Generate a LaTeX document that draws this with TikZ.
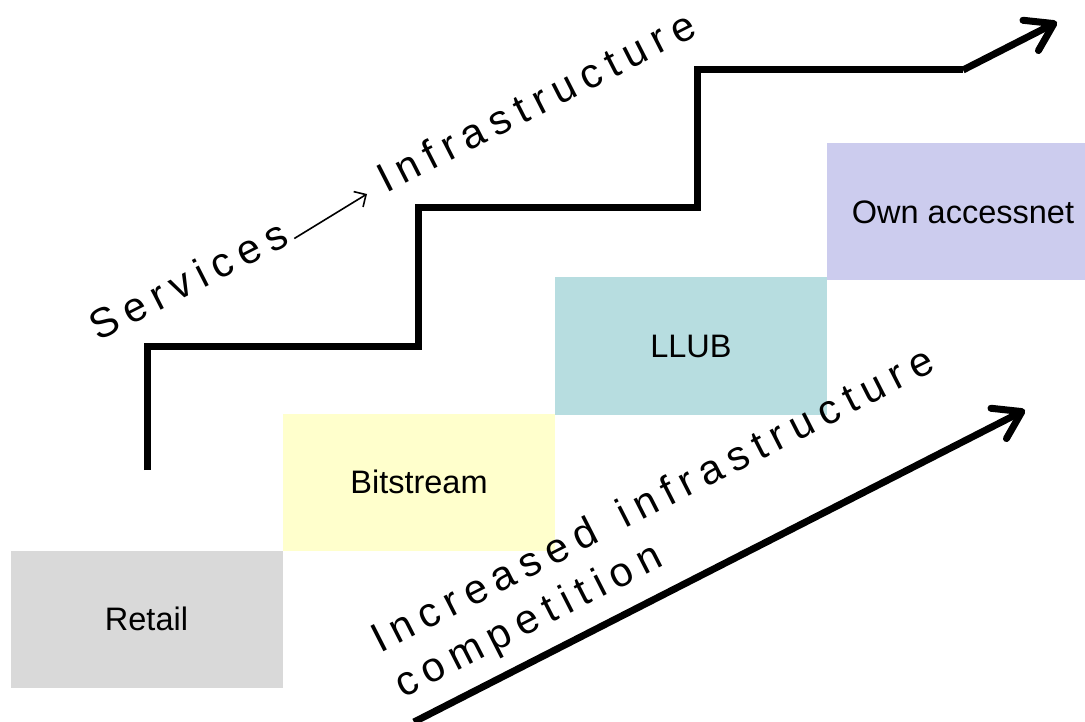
\documentclass[tikz,border=0pt]{standalone}
\usepackage{fontspec}
\setmainfont{Liberation Sans}
\usetikzlibrary{arrows.meta,calc}

\definecolor{retailgray}{HTML}{D9D9D9}
\definecolor{bityellow}{HTML}{FFFFCC}
\definecolor{llubteal}{HTML}{B7DDE0}
\definecolor{ownlav}{HTML}{CCCCEE}

% letter-spaced words: a fixed kern between the letters of a word
\newcommand\spacedword[1]{\spwA#1\relax}
\def\spwA#1#2{#1\ifx#2\relax\else\kern8.2pt\expandafter\spwA\expandafter#2\fi}
\newcommand\wordgap{\kern28pt}

\begin{document}
\begin{tikzpicture}[x=1pt,y=-1pt,
  stepbox/.style={minimum width=272pt,minimum height=137pt,inner sep=0pt,
    outer sep=0pt,font=\fontsize{32.5}{38}\selectfont},
  slanted/.style={rotate=27,anchor=base west,inner sep=0pt,
    font=\fontsize{41.5}{49}\selectfont},
  stair/.style={line width=7pt,line join=miter},
  bigarrow/.style={line width=7pt,-{Straight Barb[length=26pt,width=34pt,round]}},
  thinarrow/.style={line width=1.6pt,-{Straight Barb[length=9pt,width=18pt]}}]

\clip (0,0) rectangle (1085,722);
\fill[white] (0,0) rectangle (1085,722);

% the four access levels
\node[stepbox,fill=retailgray] (retail) at (146.5,619) {Retail};
\node[stepbox,fill=bityellow] (bitstream) at (419,482) {Bitstream};
\node[stepbox,fill=llubteal] (llub) at (691,346) {LLUB};
\node[stepbox,fill=ownlav] (own) at (963,212) {Own accessnet};

% staircase climbing towards infrastructure
\coordinate (stairstart) at (147,470);
\coordinate (stairtip) at (1057,22);
\draw[stair] (stairstart) -- (147,346) -- (418,346) -- (418,208)
  -- (697,208) -- (697,70) -- (963,70);
\draw[bigarrow] (963,70) -- (stairtip);

% slanted captions
\node[slanted] (services) at (98,342) {\spacedword{Services}};
\node[slanted] (infra) at (386,194) {\spacedword{Infrastructure}};
\draw[thinarrow] ([shift={(3,-5)}]services.base east) -- ([shift={(-19,0)}]infra.base west);

\node[slanted] (increased) at (380,654)
  {\spacedword{Increased}\wordgap\spacedword{infrastructure}};
\node[slanted] (competition) at (403,699) {\spacedword{competition}};

% competition arrow
\coordinate (compstart) at (414,722);
\coordinate (comptip) at (1025,410);
\draw[bigarrow] (compstart) -- (comptip);
\end{tikzpicture}
\end{document}
